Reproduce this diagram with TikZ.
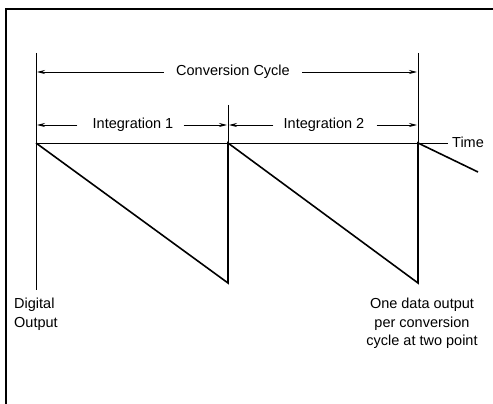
\documentclass[tikz,border=0pt]{standalone}
\usepackage{fontspec}
\setmainfont{Liberation Sans}
\usetikzlibrary{arrows.meta}
\begin{document}
\begin{tikzpicture}[x=1pt,y=-1pt,
  thinline/.style={line width=0.6pt},
  wave/.style={line width=1.6pt, line join=miter},
  dimarrow/.style={line width=0.9pt,-{Stealth[length=8pt,width=4pt]}},
  lbl/.style={font=\fontsize{14.5}{18.5}\selectfont, inner sep=0pt},
  frame/.style={line width=1.6pt}]
\useasboundingbox (0,0) rectangle (493,404);
\fill[white] (0,0) rectangle (493,404);
% frame
\draw[frame] (6,404) -- (6,9) -- (493,9);
% coordinates
\coordinate (t0) at (36,143);
\coordinate (t1) at (228,143);
\coordinate (t2) at (418,143);
\coordinate (b1) at (228,283);
\coordinate (b2) at (418,283);
\coordinate (e3) at (478,172);
\coordinate (axisend) at (448,143);
\coordinate (vl0top) at (36,53);
\coordinate (vl0bot) at (36,290);
\coordinate (vl1top) at (228,105);
\coordinate (vl2top) at (418,53);
% marker lines
\draw[thinline] (vl0top) -- (vl0bot);
\draw[thinline] (vl1top) -- (t1);
\draw[thinline] (vl2top) -- (t2);
% time axis
\draw[line width=0.9pt] (t0) -- (axisend);
\node[lbl, anchor=west] (time) at (452,142) {Time};
% sawtooth
\draw[wave] (t0) -- (b1) -- (t1) -- (b2) -- (t2) -- (e3);
% conversion cycle
\node[lbl] (conv) at (233,72) {Conversion Cycle};
\coordinate (cL) at (37,72);
\coordinate (cR) at (417,72);
\draw[dimarrow] ([xshift=-12pt]conv.west) -- (cL);
\draw[dimarrow] ([xshift=12pt]conv.east) -- (cR);
% integration 1
\node[lbl] (int1) at (133,125) {Integration 1};
\coordinate (i1L) at (37,125);
\coordinate (i1R) at (227,125);
\draw[dimarrow] ([xshift=-15pt]int1.west) -- (i1L);
\draw[dimarrow] ([xshift=10pt]int1.east) -- (i1R);
% integration 2
\node[lbl] (int2) at (324,125) {Integration 2};
\coordinate (i2L) at (229,125);
\coordinate (i2R) at (417,125);
\draw[dimarrow] ([xshift=-10pt]int2.west) -- (i2L);
\draw[dimarrow] ([xshift=12pt]int2.east) -- (i2R);
% bottom labels
\node[lbl, align=left, anchor=north west] (dig) at (14,298) {Digital\\Output};
\node[lbl, align=center, anchor=north] (one) at (422,298) {One data output\\per conversion\\cycle at two point};
\end{tikzpicture}
\end{document}
